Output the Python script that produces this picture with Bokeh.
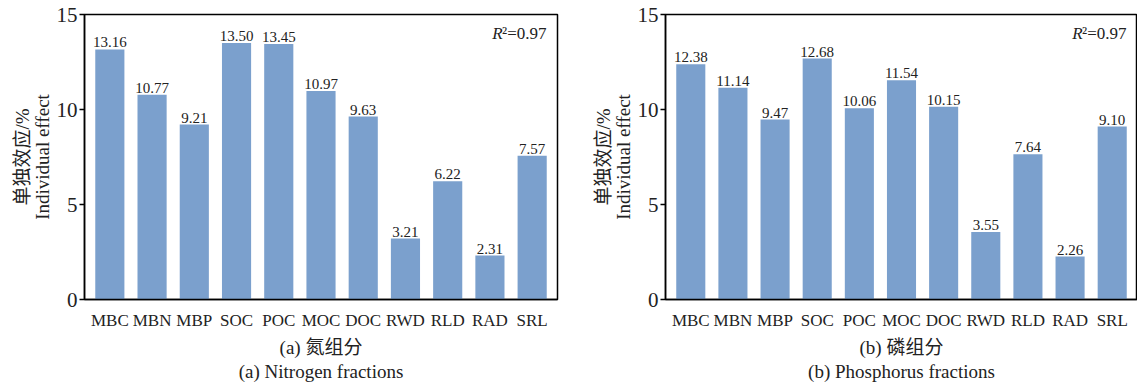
from bokeh.plotting import figure
from bokeh.models import FactorRange, Range1d, Label, Title, ColumnDataSource, FixedTicker
from bokeh.layouts import row
from bokeh.core.properties import value
from bokeh.embed import file_html
from bokeh.resources import INLINE

categories = ["MBC", "MBN", "MBP", "SOC", "POC", "MOC", "DOC", "RWD", "RLD", "RAD", "SRL"]
nitrogen_values = [13.16, 10.77, 9.21, 13.50, 13.45, 10.97, 9.63, 3.21, 6.22, 2.31, 7.57]
phosphorus_values = [12.38, 11.14, 9.47, 12.68, 10.06, 11.54, 10.15, 3.55, 7.64, 2.26, 9.10]
y_ticks = [0, 5, 10, 15]
r2_value = "0.97"
captions_cn = ["(a) 氮组分", "(b) 磷组分"]
captions_en = ["(a) Nitrogen fractions", "(b) Phosphorus fractions"]
y_label = "单独效应/%\nIndividual effect"

SERIF = "Liberation Serif, Noto Sans CJK SC, serif"
BAR = "#7BA0CD"


def panel(values, cap_cn, cap_en, width, left, right):
    xr = FactorRange(*categories, range_padding=0.2 / 11)
    p = figure(x_range=xr, y_range=Range1d(0, 15), width=width, height=387,
               output_backend="svg", toolbar_location=None,
               min_border_left=left, min_border_right=right,
               min_border_top=14, min_border_bottom=88)
    src = ColumnDataSource(dict(x=categories, y=values,
                                label=[f"{v:.2f}" for v in values]))
    p.vbar(x="x", top="y", width=0.69, source=src, fill_color=BAR, line_color=None)
    p.text(x="x", y="y", text="label", source=src, text_align="center",
           text_baseline="bottom", y_offset=-2, text_font=value(SERIF),
           text_font_size="15px", text_color="#222222")
    p.grid.visible = False
    p.outline_line_color = "black"
    p.outline_line_width = 1.5
    p.background_fill_color = "white"
    p.border_fill_color = "white"

    p.yaxis.ticker = FixedTicker(ticks=y_ticks)
    p.yaxis.major_label_text_font = SERIF
    p.yaxis.major_label_text_font_size = "21px"
    p.yaxis.major_label_text_color = "#222222"
    p.yaxis.major_tick_in = 0
    p.yaxis.major_tick_out = 5
    p.yaxis.major_tick_line_width = 1.5
    p.yaxis.minor_tick_line_color = None
    p.yaxis.axis_line_width = 1.5
    p.yaxis.axis_label = y_label
    p.yaxis.axis_label_text_font = SERIF
    p.yaxis.axis_label_text_font_size = "19px"
    p.yaxis.axis_label_text_font_style = "normal"
    p.yaxis.axis_label_text_color = "#222222"
    p.yaxis.axis_label_text_line_height = 0.95
    p.yaxis.axis_label_standoff = 1
    p.yaxis.major_label_standoff = 2

    p.xaxis.major_label_text_font = SERIF
    p.xaxis.major_label_text_font_size = "17px"
    p.xaxis.major_label_text_color = "#222222"
    p.xaxis.major_tick_line_color = None
    p.xaxis.minor_tick_line_color = None
    p.xaxis.axis_line_width = 1.5
    p.xaxis.major_label_standoff = 5

    p.add_layout(Label(x=10.84, y=14.0, text="\u00b2=" + r2_value, text_align="right",
                       text_baseline="middle", text_font=SERIF, text_font_size="17px",
                       text_color="#222222"))
    p.add_layout(Label(x=10.84, y=14.0, x_offset=-44, text="R", text_align="right",
                       text_baseline="middle", text_font=SERIF, text_font_size="17px",
                       text_font_style="italic", text_color="#222222"))

    p.add_layout(Title(text=cap_cn, align="center", text_font=SERIF, text_font_size="19px",
                       text_font_style="normal", text_color="#222222", standoff=5, offset=0),
                 "below")
    p.add_layout(Title(text=cap_en, align="center", text_font=SERIF, text_font_size="19px",
                       text_font_style="normal", text_color="#222222", standoff=-4, offset=0),
                 "below")
    return p


p1 = panel(nitrogen_values, captions_cn[0], captions_en[0], 580, 84, 23)
p2 = panel(phosphorus_values, captions_cn[1], captions_en[1], 557, 85, 0)
layout = row(p1, p2)

open("out.html", "w").write(file_html(layout, INLINE))
